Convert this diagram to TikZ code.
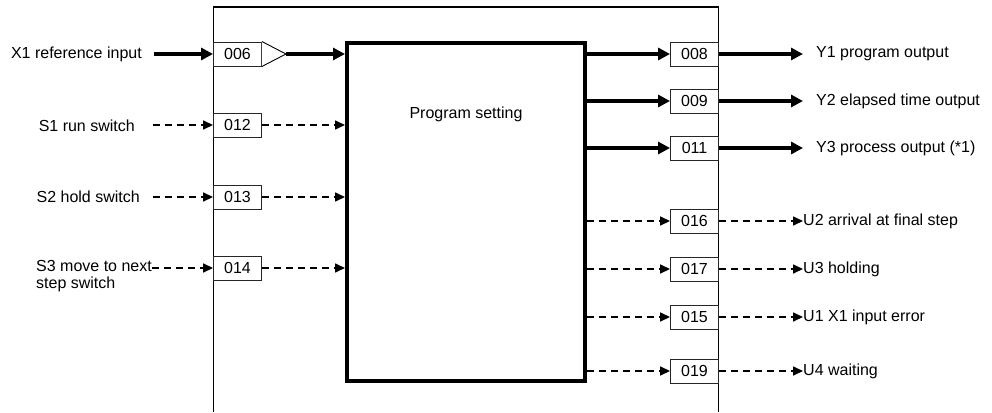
\documentclass[tikz,border=0pt]{standalone}
\usepackage{fontspec}
\setmainfont{Liberation Sans}
\usetikzlibrary{arrows.meta}
\begin{document}
\begin{tikzpicture}[x=1pt,y=-1pt,
  every node/.style={font=\fontsize{16}{16}\selectfont, inner sep=0pt},
  iobox/.style={draw=black!85, line width=0.9pt, fill=white, minimum width=48pt, minimum height=24pt},
  lbl/.style={anchor=west},
  lblr/.style={anchor=east},
  thickarr/.style={line width=4pt, -{Triangle[length=12pt,width=12pt]}},
  dasharr/.style={line width=1.6pt, dash pattern=on 7pt off 5pt, -{Triangle[length=10pt,width=9pt]}},
  frame/.style={line width=1.5pt}
]
\useasboundingbox (0,0) rectangle (992,412);
% outer frame
\draw[frame] (213.5,412) -- (213.5,7) -- (718.5,7) -- (718.5,412);
% main block
\node[draw, line width=4pt, minimum width=238pt, minimum height=337pt] (prog) at (466,212) {};
\node (ptxt) at (466,114) {Program setting};
% input boxes
\node[iobox] (b006) at (237.5,54) {006};
\node[iobox] (b012) at (237.5,125) {012};
\node[iobox] (b013) at (237.5,197) {013};
\node[iobox] (b014) at (237.5,268) {014};
% output boxes
\node[iobox] (b008) at (694.5,54) {008};
\node[iobox] (b009) at (694.5,101) {009};
\node[iobox] (b011) at (694.5,148) {011};
\node[iobox] (b016) at (694.5,221) {016};
\node[iobox] (b017) at (694.5,269) {017};
\node[iobox] (b015) at (694.5,317) {015};
\node[iobox] (b019) at (694.5,371) {019};
% triangle after 006
\coordinate (tri) at (286,54);
\draw[line width=0.9pt, fill=white] (b006.north east) -- (tri) -- (b006.south east);
% input labels
\node[lblr] (lx1) at (142,54) {X1 reference input};
\node[lblr] (ls1) at (135,126) {S1 run switch};
\node[lblr] (ls2) at (140,197) {S2 hold switch};
\node[lbl, align=left, font=\fontsize{16}{16.5}\selectfont] (ls3) at (36,276) {S3 move to next\\step switch};
\coordinate (s3start) at (152,268);
% input arrows
\draw[thickarr] ([xshift=12pt]lx1.east) -- (b006.west);
\draw[thickarr] (tri) -- (prog.west |- tri);
\draw[dasharr] ([xshift=18pt]ls1.east |- b012) -- (b012.west);
\draw[dasharr] (b012.east) -- (prog.west |- b012);
\draw[dasharr] ([xshift=13pt]ls2.east |- b013) -- (b013.west);
\draw[dasharr] (b013.east) -- (prog.west |- b013);
\draw[dasharr] (s3start) -- (b014.west);
\draw[dasharr] (b014.east) -- (prog.west |- b014);
% output labels
\node[lbl] (ly1) at (816,54) {Y1 program output};
\node[lbl] (ly2) at (816,101) {Y2 elapsed time output};
\node[lbl] (ly3) at (816,148) {Y3 process output (*1)};
\node[lbl] (lu2) at (803,221) {U2 arrival at final step};
\node[lbl] (lu3) at (803,269) {U3 holding};
\node[lbl] (lu1) at (803,317) {U1 X1 input error};
\node[lbl] (lu4) at (803,371) {U4 waiting};
% output arrows
\foreach \b/\l in {b008/ly1, b009/ly2, b011/ly3}{
  \draw[thickarr] (prog.east |- \b) -- (\b.west);
  \draw[thickarr] (\b.east) -- ([xshift=-13pt]\l.west);
}
\foreach \b/\l in {b016/lu2, b017/lu3, b015/lu1, b019/lu4}{
  \draw[dasharr] (prog.east |- \b) -- (\b.west);
  \draw[dasharr] (\b.east) -- (\l.west);
}
\end{tikzpicture}
\end{document}
